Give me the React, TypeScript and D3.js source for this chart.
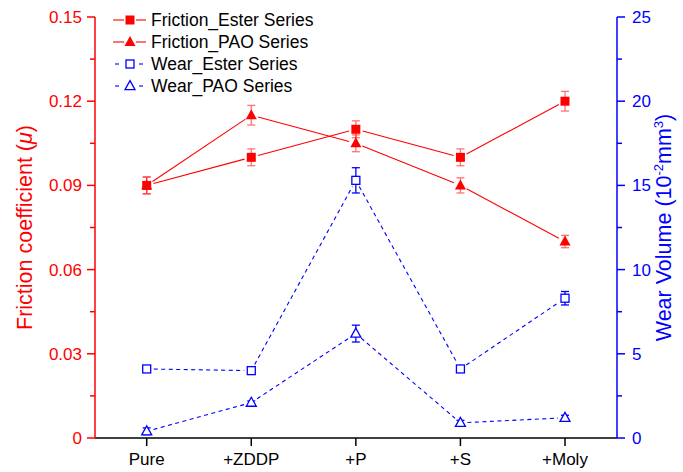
import React from "react";
import * as d3 from "d3";

// Additive categories along the x axis
const categories = ["Pure", "+ZDDP", "+P", "+S", "+Moly"];

// Friction coefficient (left axis)
const frictionEster = [0.09, 0.1, 0.11, 0.1, 0.12];
const frictionEsterErr = [0.003, 0.003, 0.003, 0.003, 0.0035];
const frictionPAO = [0.09, 0.115, 0.105, 0.09, 0.07];
const frictionPAOErr = [0.003, 0.0035, 0.003, 0.0027, 0.0022];

// Wear volume, 10^-2 mm^3 (right axis)
const wearEster = [4.1, 4.0, 15.3, 4.1, 8.3];
const wearEsterErr = [0.1, 0.1, 0.75, 0.1, 0.4];
const wearPAO = [0.4, 2.1, 6.2, 0.9, 1.2];
const wearPAOErr = [0.2, 0.1, 0.5, 0.15, 0.15];

const leftTicks = [0, 0.03, 0.06, 0.09, 0.12, 0.15];
const rightTicks = [0, 5, 10, 15, 20, 25];

const legendItems = [
  { label: "Friction_Ester Series", color: "#ff0000", shape: "square", filled: true },
  { label: "Friction_PAO Series", color: "#ff0000", shape: "triangle", filled: true },
  { label: "Wear_Ester Series", color: "#0000ff", shape: "square", filled: false },
  { label: "Wear_PAO Series", color: "#0000ff", shape: "triangle", filled: false },
];

const W = 683;
const H = 472;
const axisLeft = 95;
const axisRight = 617;
const axisTop = 17;
const axisBottom = 438;
const FONT = "'Liberation Sans', Arial, Helvetica, sans-serif";
const RED = "#ff0000";
const BLUE = "#0000ff";

const x = d3.scalePoint<string>().domain(categories).range([146.7, 565]);
const yL = d3.scaleLinear().domain([0, 0.15]).range([axisBottom, axisTop]);
const yR = d3.scaleLinear().domain([0, 25]).range([axisBottom, axisTop]);

function Marker({ cx, cy, shape, color, filled }: any) {
  const fill = filled ? color : "#fff";
  if (shape === "square") {
    const s = filled ? 9 : 8;
    return (
      <rect x={cx - s / 2} y={cy - s / 2} width={s} height={s} fill={fill} stroke={color} strokeWidth={filled ? 0 : 1.3} />
    );
  }
  const w = filled ? 11 : 10;
  const h = filled ? 10 : 9;
  const p = d3.path();
  p.moveTo(cx, cy - h * 0.6);
  p.lineTo(cx + w / 2, cy + h * 0.4);
  p.lineTo(cx - w / 2, cy + h * 0.4);
  p.closePath();
  return <path d={p.toString()} fill={fill} stroke={color} strokeWidth={filled ? 0 : 1.3} strokeLinejoin="miter" />;
}

// Connecting segments stop short of each marker, leaving a small gap
function GappedLine({ values, scale, color, dash }: any) {
  const gap = 7;
  const segs = [];
  for (let i = 0; i < values.length - 1; i++) {
    const x1 = x(categories[i])!;
    const y1 = scale(values[i]);
    const x2 = x(categories[i + 1])!;
    const y2 = scale(values[i + 1]);
    const dx = x2 - x1;
    const dy = y2 - y1;
    const len = Math.hypot(dx, dy);
    const ux = dx / len;
    const uy = dy / len;
    segs.push(
      <line
        key={i}
        x1={x1 + ux * gap}
        y1={y1 + uy * gap}
        x2={x2 - ux * gap}
        y2={y2 - uy * gap}
        stroke={color}
        strokeWidth={1.1}
        strokeDasharray={dash}
      />
    );
  }
  return <g>{segs}</g>;
}

function ErrorBars({ values, errs, scale, color, opacity }: any) {
  const cap = 4;
  return (
    <g stroke={color} strokeWidth={1.3} opacity={opacity}>
      {values.map((v: number, i: number) => {
        const cx = x(categories[i])!;
        const top = scale(v + errs[i]);
        const bot = scale(v - errs[i]);
        return (
          <g key={i}>
            <line x1={cx} x2={cx} y1={top} y2={bot} />
            <line x1={cx - cap} x2={cx + cap} y1={top} y2={top} />
            <line x1={cx - cap} x2={cx + cap} y1={bot} y2={bot} />
          </g>
        );
      })}
    </g>
  );
}

function Series({ values, errs, scale, color, shape, filled, dash, errOpacity }: any) {
  return (
    <g>
      <GappedLine values={values} scale={scale} color={color} dash={dash} />
      <ErrorBars values={values} errs={errs} scale={scale} color={color} opacity={errOpacity} />
      {values.map((v: number, i: number) => (
        <Marker key={i} cx={x(categories[i])!} cy={scale(v)} shape={shape} color={color} filled={filled} />
      ))}
    </g>
  );
}

export default function App() {
  const leftMinor = d3.range(0.015, 0.15, 0.03);
  const rightMinor = d3.range(2.5, 25, 5);
  return (
    <svg
      width={W}
      height={H}
      viewBox={`0 0 ${W} ${H}`}
      style={{ position: "absolute", left: 0, top: 0, background: "#fff" }}
      fontFamily={FONT}
    >
      <rect width={W} height={H} fill="#fff" />

      {/* bottom axis */}
      <line x1={axisLeft} x2={axisRight} y1={axisBottom} y2={axisBottom} stroke="#000" strokeWidth={1.5} />
      {categories.map((c) => (
        <g key={c}>
          <line x1={x(c)!} x2={x(c)!} y1={axisBottom} y2={axisBottom + 8} stroke="#000" strokeWidth={1.5} />
          <text x={x(c)!} y={axisBottom + 27} textAnchor="middle" fontSize={17} fill="#000">
            {c}
          </text>
        </g>
      ))}

      {/* left axis: friction coefficient */}
      <line x1={axisLeft} x2={axisLeft} y1={axisTop} y2={axisBottom} stroke={RED} strokeWidth={1.5} />
      {leftTicks.map((t) => (
        <g key={t}>
          <line x1={axisLeft - 8} x2={axisLeft} y1={yL(t)} y2={yL(t)} stroke={RED} strokeWidth={1.5} />
          <text x={axisLeft - 13} y={yL(t) + 6} textAnchor="end" fontSize={17} fill={RED}>
            {t === 0 ? "0" : d3.format(".2f")(t)}
          </text>
        </g>
      ))}
      {leftMinor.map((t) => (
        <line key={t} x1={axisLeft - 5} x2={axisLeft} y1={yL(t)} y2={yL(t)} stroke={RED} strokeWidth={1.5} />
      ))}
      <text transform={`translate(32,${(axisTop + axisBottom) / 2}) rotate(-90)`} textAnchor="middle" fontSize={21.5} fill={RED}>
        Friction coefficient (<tspan fontStyle="italic">μ</tspan>)
      </text>

      {/* right axis: wear volume */}
      <line x1={axisRight} x2={axisRight} y1={axisTop} y2={axisBottom} stroke={BLUE} strokeWidth={1.5} />
      {rightTicks.map((t) => (
        <g key={t}>
          <line x1={axisRight} x2={axisRight + 8} y1={yR(t)} y2={yR(t)} stroke={BLUE} strokeWidth={1.5} />
          <text x={axisRight + 15} y={yR(t) + 6} textAnchor="start" fontSize={17} fill={BLUE}>
            {t}
          </text>
        </g>
      ))}
      {rightMinor.map((t) => (
        <line key={t} x1={axisRight} x2={axisRight + 5} y1={yR(t)} y2={yR(t)} stroke={BLUE} strokeWidth={1.5} />
      ))}
      <text transform={`translate(671,${(axisTop + axisBottom) / 2}) rotate(-90)`} textAnchor="middle" fontSize={21.5} fill={BLUE}>
        Wear Volume (10<tspan fontSize={13} dy={-8}>-2</tspan>
        <tspan dy={8}>mm</tspan>
        <tspan fontSize={13} dy={-8}>3</tspan>
        <tspan dy={8}>)</tspan>
      </text>

      {/* data */}
      <Series values={wearEster} errs={wearEsterErr} scale={yR} color={BLUE} shape="square" filled={false} dash="4,3.5" errOpacity={1} />
      <Series values={wearPAO} errs={wearPAOErr} scale={yR} color={BLUE} shape="triangle" filled={false} dash="4,3.5" errOpacity={1} />
      <Series values={frictionEster} errs={frictionEsterErr} scale={yL} color={RED} shape="square" filled={true} errOpacity={0.55} />
      <Series values={frictionPAO} errs={frictionPAOErr} scale={yL} color={RED} shape="triangle" filled={true} errOpacity={0.55} />

      {/* legend */}
      {legendItems.map((it, i) => {
        const cy = 20 + i * 22;
        const cx = 130;
        return (
          <g key={it.label}>
            {it.filled ? (
              <>
                <line x1={113} x2={124} y1={cy} y2={cy} stroke={it.color} strokeWidth={1.1} />
                <line x1={136} x2={146} y1={cy} y2={cy} stroke={it.color} strokeWidth={1.1} />
              </>
            ) : (
              <>
                <line x1={115} x2={119} y1={cy} y2={cy} stroke={it.color} strokeWidth={1.1} />
                <line x1={139} x2={143} y1={cy} y2={cy} stroke={it.color} strokeWidth={1.1} />
              </>
            )}
            <Marker cx={cx} cy={cy} shape={it.shape} color={it.color} filled={it.filled} />
            <text x={151} y={cy + 6} fontSize={17.5} fill="#000">
              {it.label}
            </text>
          </g>
        );
      })}
    </svg>
  );
}
